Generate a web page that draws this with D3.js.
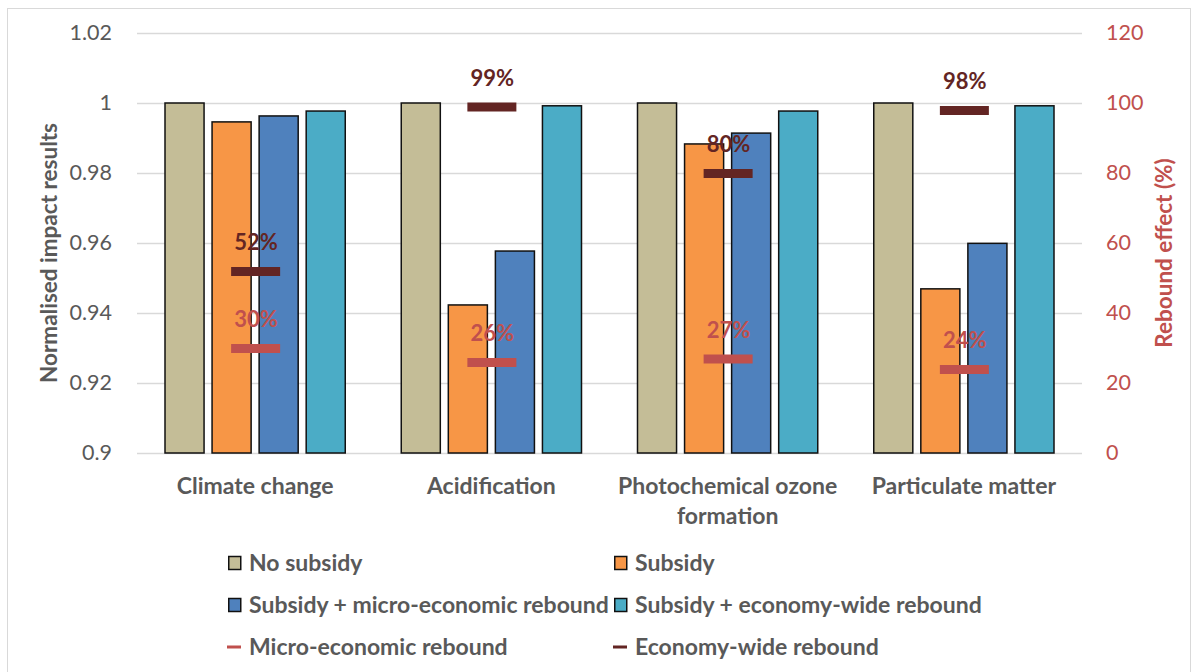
<!DOCTYPE html>
<html>
<head>
<meta charset="utf-8">
<script src="https://cdn.jsdelivr.net/npm/d3@7"></script>
<style>
  html, body { margin: 0; padding: 0; background: #fff; }
  svg { display: block; font-family: Lato, "Open Sans", sans-serif; }
</style>
</head>
<body>
<svg id="chart" width="1199" height="672"></svg>
<script>
// data
const categories = ["Climate change", "Acidification", "Photochemical ozone formation", "Particulate matter"];
const seriesNames = ["No subsidy", "Subsidy", "Subsidy + micro-economic rebound", "Subsidy + economy-wide rebound"];
const noSubsidy   = [1.0, 1.0, 1.0, 1.0];
const subsidy     = [0.9946, 0.9423, 0.9883, 0.9469];
const subsMicro   = [0.9963, 0.9577, 0.9914, 0.9599];
const subsEconomy = [0.9977, 0.9992, 0.9977, 0.9992];
const microRebound   = [30, 26, 27, 24];
const economyRebound = [52, 99, 80, 98];
const leftTicks  = [0.9, 0.92, 0.94, 0.96, 0.98, 1, 1.02];
const rightTicks = [0, 20, 40, 60, 80, 100, 120];

const barColors = ["#C4BD97", "#F79646", "#4F81BD", "#4BACC6"];
const microColor = "#C0504D", econColor = "#632523";
const grey = "#595959";
const labelSize = '23px', tickSize = '21.5px', pctSize = '22px';

const svg = d3.select('#chart');

// outer chart frame
svg.append('rect')
  .attr('x', 7.5).attr('y', 8.5).attr('width', 1183).attr('height', 700)
  .attr('fill', 'none').attr('stroke', '#d9d9d9').attr('stroke-width', 1);

const plot = { left: 137, right: 1082, top: 33, bottom: 453 };

const x = d3.scaleBand().domain(categories).range([plot.left, plot.right]).padding(0);
const xs = d3.scaleBand().domain(seriesNames).range([28, x.bandwidth() - 28]).paddingInner(0.17);
const y = d3.scaleLinear().domain([0.9, 1.02]).range([plot.bottom, plot.top]);
const y2 = d3.scaleLinear().domain([0, 120]).range([plot.bottom, plot.top]);

// gridlines
svg.append('g').selectAll('line')
  .data(leftTicks)
  .join('line')
  .attr('x1', plot.left).attr('x2', plot.right)
  .attr('y1', d => Math.round(y(d)) + 0.5).attr('y2', d => Math.round(y(d)) + 0.5)
  .attr('stroke', '#d9d9d9').attr('stroke-width', 1.5);

// left axis
const yAxis = svg.append('g')
  .attr('transform', `translate(${plot.left - 25},0)`)
  .call(d3.axisLeft(y).tickValues(leftTicks).tickSize(0).tickFormat(d => String(+d.toFixed(2))));
yAxis.select('.domain').remove();
yAxis.selectAll('text').attr('fill', grey).attr('x', 0).style('font-size', tickSize).style('font-family', 'Lato, sans-serif');

// right axis
const y2Axis = svg.append('g')
  .attr('transform', `translate(${plot.right + 24},0)`)
  .call(d3.axisRight(y2).tickValues(rightTicks).tickSize(0));
y2Axis.select('.domain').remove();
y2Axis.selectAll('text').attr('fill', microColor).attr('x', 0).style('font-size', tickSize).style('font-family', 'Lato, sans-serif');

// axis titles
svg.append('text')
  .attr('transform', `translate(57,${(plot.top + plot.bottom) / 2 + 10}) rotate(-90)`)
  .attr('text-anchor', 'middle')
  .attr('fill', grey).style('font-size', '22.5px').style('font-weight', 'bold')
  .text('Normalised impact results');
svg.append('text')
  .attr('transform', `translate(1172,${(plot.top + plot.bottom) / 2 + 10}) rotate(-90)`)
  .attr('text-anchor', 'middle')
  .attr('fill', microColor).style('font-size', '22.5px').style('font-weight', 'bold')
  .text('Rebound effect (%)');

// bars
const allSeries = [noSubsidy, subsidy, subsMicro, subsEconomy];
const groups = svg.append('g').selectAll('g')
  .data(categories)
  .join('g')
  .attr('transform', d => `translate(${x(d)},0)`);

groups.selectAll('rect')
  .data((c, i) => seriesNames.map((s, j) => ({ series: s, j, value: allSeries[j][i] })))
  .join('rect')
  .attr('x', d => xs(d.series))
  .attr('width', xs.bandwidth())
  .attr('y', d => y(d.value))
  .attr('height', d => y(0.9) - y(d.value))
  .attr('fill', d => barColors[d.j])
  .attr('stroke', '#111').attr('stroke-width', 1.5);

// rebound markers
function drawMarkers(values, color) {
  const g = svg.append('g');
  g.selectAll('rect')
    .data(values)
    .join('rect')
    .attr('x', (d, i) => x(categories[i]) + x.bandwidth() / 2 - 24)
    .attr('width', 49)
    .attr('y', d => y2(d) - 4)
    .attr('height', 9)
    .attr('fill', color);
  g.selectAll('text')
    .data(values)
    .join('text')
    .attr('x', (d, i) => x(categories[i]) + x.bandwidth() / 2 + 1)
    .attr('y', d => y2(d) - 21)
    .attr('text-anchor', 'middle')
    .attr('fill', color).style('font-size', pctSize).style('font-weight', 'bold')
    .text(d => d + '%');
}
drawMarkers(economyRebound, econColor);
drawMarkers(microRebound, microColor);

// category labels (wrapped like the original)
const catLines = { "Photochemical ozone formation": ["Photochemical ozone", "formation"] };
svg.append('g').selectAll('text')
  .data(categories)
  .join('text')
  .attr('x', d => x(d) + x.bandwidth() / 2)
  .attr('y', 494)
  .attr('text-anchor', 'middle')
  .attr('fill', grey).style('font-size', labelSize).style('font-weight', 'bold')
  .each(function (d) {
    const lines = catLines[d] || [d];
    d3.select(this).selectAll('tspan')
      .data(lines)
      .join('tspan')
      .attr('x', x(d) + x.bandwidth() / 2)
      .attr('dy', (l, k) => k === 0 ? 0 : 30)
      .text(l => l);
  });

// legend
const legendItems = [
  { label: seriesNames[0], type: 'box', color: barColors[0] },
  { label: seriesNames[1], type: 'box', color: barColors[1] },
  { label: seriesNames[2], type: 'box', color: barColors[2] },
  { label: seriesNames[3], type: 'box', color: barColors[3] },
  { label: 'Micro-economic rebound', type: 'line', color: microColor },
  { label: 'Economy-wide rebound', type: 'line', color: econColor }
];
const legend = svg.append('g').selectAll('g')
  .data(legendItems)
  .join('g')
  .attr('transform', (d, i) => `translate(${i % 2 === 0 ? 228 : 614},${563 + Math.floor(i / 2) * 42})`);

legend.filter(d => d.type === 'box').append('rect')
  .attr('x', 0.75).attr('y', -6.5).attr('width', 12).attr('height', 13)
  .attr('fill', d => d.color).attr('stroke', '#111').attr('stroke-width', 1.5);
legend.filter(d => d.type === 'line').append('rect')
  .attr('x', -1).attr('y', -1.5).attr('width', 14).attr('height', 3)
  .attr('fill', d => d.color);
legend.append('text')
  .attr('x', 21).attr('y', 7.5)
  .attr('fill', grey).style('font-size', labelSize).style('font-weight', 'bold')
  .text(d => d.label);
</script>
</body>
</html>
